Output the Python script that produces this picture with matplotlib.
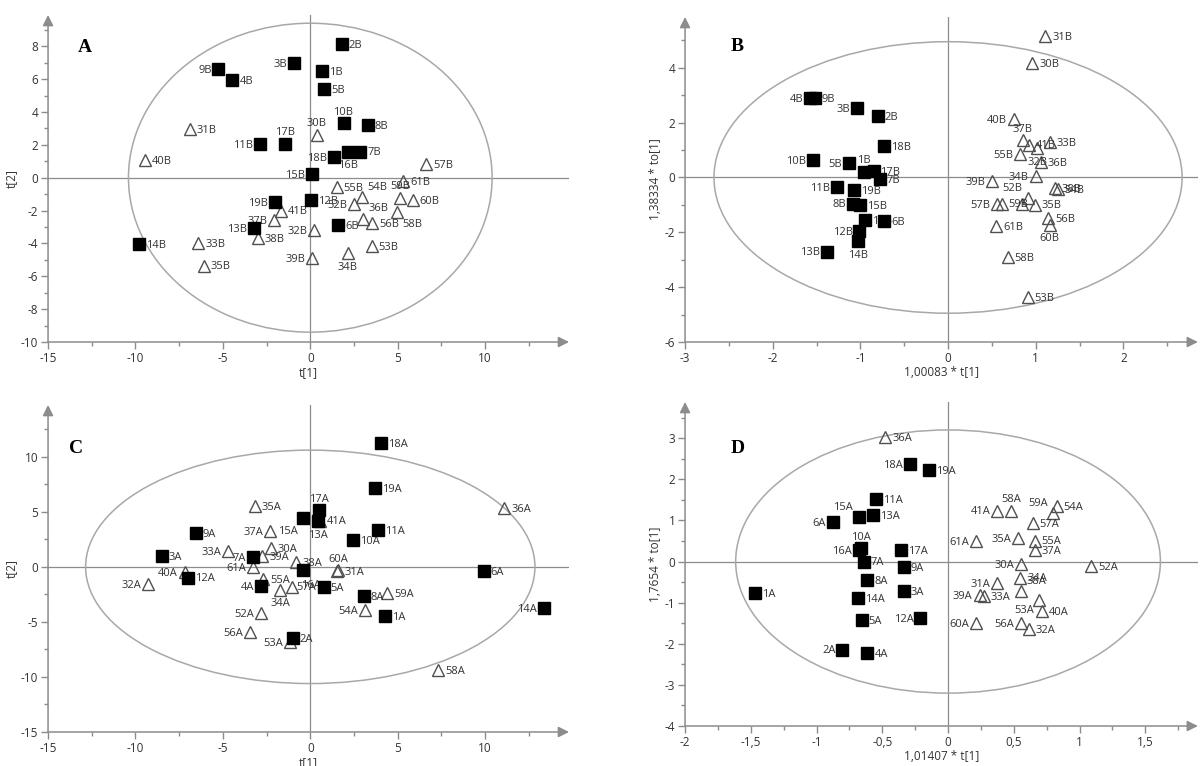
import matplotlib
matplotlib.use("Agg")

import matplotlib.pyplot as plt
from matplotlib.patches import Ellipse
from matplotlib.ticker import FixedLocator, FuncFormatter
import numpy as np

plt.rcParams["font.family"] = ["Open Sans", "DejaVu Sans"]
plt.rcParams["axes.unicode_minus"] = False

# ---- panel A : t[1] / t[2]
a_lab = ["2B", "3B", "9B", "4B", "1B", "5B", "10B", "8B", "17B", "11B", "18B", "16B",
         "7B", "15B", "19B", "12B", "13B", "6B", "14B",
         "31B", "40B", "30B", "57B", "55B", "54B", "52B", "36B", "56B", "60B", "59B",
         "61B", "58B", "41B", "37B", "38B", "33B", "35B", "32B", "39B", "34B", "53B"]
a_x = [1.79, -0.95, -5.25, -4.45, 0.67, 0.8, 1.9, 3.3, -1.43, -2.9, 1.34, 2.18,
       2.85, 0.1, -2.0, 0.04, -3.2, 1.59, -9.8,
       -6.9, -9.45, 0.38, 6.62, 1.52, 2.95, 2.51, 3.02, 3.55, 5.86, 5.13,
       5.3, 4.96, -1.7, -2.07, -3.0, -6.4, -6.1, 0.22, 0.1, 2.14, 3.52]
a_y = [8.15, 7.0, 6.62, 5.95, 6.5, 5.4, 3.3, 3.2, 2.08, 2.04, 1.26, 1.59,
       1.59, 0.2, -1.47, -1.37, -3.06, -2.88, -4.06,
       2.95, 1.06, 2.6, 0.81, -0.59, -1.16, -1.61, -2.49, -2.78, -1.35, -1.24,
       -0.2, -2.08, -2.0, -2.57, -3.7, -4.0, -5.35, -3.16, -4.88, -4.61, -4.16]
a_kind = ["s"] * 19 + ["t"] * 22
a_pos = {"3B": "L", "9B": "L", "10B": "U", "17B": "U", "11B": "L", "18B": "L",
         "16B": "D", "15B": "L", "19B": "L", "13B": "L", "30B": "U", "54B": "UR",
         "52B": "L", "36B": "UR", "59B": "U", "58B": "DR", "37B": "L", "32B": "L",
         "39B": "L", "34B": "D"}

# ---- panel B : 1,00083 * t[1] / 1,38334 * to[1]
b_lab = ["4B", "9B", "3B", "2B", "18B", "10B", "5B", "1B", "17B", "7B", "11B", "19B",
         "8B", "15B", "16B", "6B", "12B", "14B", "13B",
         "31B", "30B", "40B", "37B", "41B", "33B", "32B", "55B", "36B", "34B", "39B",
         "52B", "38B", "54B", "57B", "59B", "35B", "", "56B", "60B", "61B", "58B", "53B"]
b_x = [-1.57, -1.52, -1.04, -0.80, -0.73, -1.54, -1.13, -0.96, -0.85, -0.78, -1.27, -1.07,
       -1.08, -1.0, -0.95, -0.73, -1.01, -1.03, -1.38,
       1.11, 0.96, 0.75, 0.85, 0.92, 1.16, 1.02, 0.82, 1.06, 1.0, 0.5,
       0.91, 1.22, 1.25, 0.56, 0.61, 0.99, 0.84, 1.14, 1.16, 0.55, 0.68, 0.91]
b_y = [2.9, 2.9, 2.53, 2.23, 1.13, 0.64, 0.51, 0.21, 0.24, -0.06, -0.34, -0.46,
       -0.95, -1.0, -1.55, -1.6, -1.94, -2.33, -2.7,
       5.14, 4.16, 2.12, 1.35, 1.2, 1.28, 1.06, 0.86, 0.57, 0.06, -0.13,
       -0.75, -0.39, -0.42, -0.97, -0.95, -0.99, -0.95, -1.49, -1.73, -1.76, -2.91, -4.36]
b_kind = ["s"] * 19 + ["t"] * 23
b_pos = {"4B": "L", "3B": "L", "10B": "L", "5B": "L", "1B": "U", "11B": "L",
         "8B": "L", "12B": "L", "14B": "D", "13B": "L", "40B": "L", "37B": "U",
         "32B": "D", "55B": "L", "34B": "L", "39B": "L", "52B": "UL", "57B": "L",
         "60B": "D"}

# ---- panel C : t[1] / t[2]
c_lab = ["18A", "19A", "17A", "15A", "13A", "11A", "10A", "9A", "3A", "7A", "12A",
         "4A", "2A", "5A", "8A", "1A", "6A", "14A", "16A",
         "35A", "41A", "37A", "33A", "30A", "39A", "61A", "40A", "32A", "55A", "34A",
         "57A", "38A", "31A", "60A", "52A", "56A", "53A", "36A", "59A", "54A", "58A"]
c_x = [4.04, 3.71, 0.5, -0.39, 0.45, 3.85, 2.47, -6.56, -8.5, -3.28, -6.98,
       -2.82, -1.01, 0.77, 3.06, 4.3, 9.91, 13.37, -0.39,
       -3.16, 0.55, -2.3, -4.69, -2.27, -2.74, -3.28, -7.17, -9.27, -2.71, -1.72,
       -1.06, -0.83, 1.54, 1.6, -2.82, -3.44, -1.17, 11.1, 4.41, 3.13, 7.31]
c_y = [11.27, 7.12, 5.15, 4.45, 4.15, 3.33, 2.42, 3.09, 0.97, 0.85, -0.97,
       -1.72, -6.46, -1.87, -2.63, -4.44, -0.42, -3.77, -0.3,
       5.55, 4.2, 3.27, 1.45, 1.67, 0.97, -0.06, -0.45, -1.57, -1.12, -2.11,
       -1.87, 0.45, -0.36, -0.3, -4.23, -5.89, -6.85, 5.3, -2.41, -3.89, -9.36]
c_kind = ["s"] * 19 + ["t"] * 22
c_pos = {"17A": "U", "15A": (-4, -10, "right"), "13A": "D", "7A": "L", "4A": "L",
         "14A": "L", "16A": (-2, -11, "left"), "37A": "L", "33A": "L", "61A": "L",
         "40A": "L", "32A": "L", "34A": "D", "60A": "U", "52A": "L", "56A": "L",
         "53A": "L", "54A": "L", "57A": (3, 0, "left")}

# ---- panel D : 1,01407 * t[1] / 1,7654 * to[1]
d_lab = ["6A", "15A", "11A", "13A", "10A", "16A", "7A", "8A", "17A", "9A", "18A",
         "19A", "1A", "3A", "14A", "5A", "12A", "2A", "4A",
         "36A", "58A", "41A", "59A", "54A", "57A", "61A", "35A", "55A", "37A", "30A",
         "52A", "34A", "31A", "38A", "39A", "33A", "53A", "40A", "60A", "56A", "32A"]
d_x = [-0.878, -0.68, -0.546, -0.567, -0.66, -0.68, -0.64, -0.613, -0.36, -0.336, -0.293,
       -0.144, -1.465, -0.336, -0.683, -0.657, -0.21, -0.803, -0.613,
       -0.478, 0.478, 0.374, 0.8, 0.825, 0.643, 0.21, 0.53, 0.66, 0.66, 0.554,
       1.09, 0.55, 0.374, 0.555, 0.24, 0.27, 0.695, 0.715, 0.213, 0.555, 0.616]
d_y = [0.97, 1.08, 1.52, 1.14, 0.32, 0.29, 0.0, -0.44, 0.29, -0.14, 2.38,
       2.23, -0.77, -0.71, -0.89, -1.42, -1.37, -2.14, -2.22,
       3.03, 1.24, 1.24, 1.18, 1.36, 0.94, 0.49, 0.57, 0.51, 0.27, -0.07,
       -0.12, -0.39, -0.52, -0.71, -0.81, -0.85, -0.93, -1.2, -1.5, -1.49, -1.64]
d_kind = ["s"] * 19 + ["t"] * 22
d_pos = {"6A": "L", "15A": "UL", "10A": "U", "16A": "L", "18A": "L", "12A": "L",
         "2A": "L", "58A": "U", "41A": "L", "59A": "UL", "61A": "L", "35A": "L",
         "30A": "L", "31A": "L", "38A": "UR", "39A": "L", "53A": "DL", "60A": "L",
         "56A": "L"}

OFFS = {"R": (5, -1, "left"), "L": (-5, -1, "right"), "U": (0, 8, "center"),
        "D": (0, -10, "center"), "UR": (4, 7, "left"), "UL": (-4, 7, "right"),
        "DR": (4, -9, "left"), "DL": (-4, -8, "right")}

GREY = "#8c8c8c"
TXT = "#333333"


def comma(v, pos=None):
    s = f"{v:g}"
    return s.replace(".", ",")


def panel(fig, rect, lab, xs, ys, kind, pos, xlim, ylim, xmaj, xmin, ymaj, ymin,
          ell, letter, letter_xy, xlabel, ylabel):
    ax = fig.add_axes(rect)
    ax.set_xlim(*xlim)
    ax.set_ylim(*ylim)
    for s in ax.spines.values():
        s.set_visible(False)
    # axes with arrow heads
    ax.annotate("", xy=(1, 0), xytext=(0, 0), xycoords="axes fraction",
                arrowprops=dict(arrowstyle="-|>", color=GREY, lw=1.1,
                                mutation_scale=16, shrinkA=0, shrinkB=0))
    ax.annotate("", xy=(0, 1), xytext=(0, 0), xycoords="axes fraction",
                arrowprops=dict(arrowstyle="-|>", color=GREY, lw=1.1,
                                mutation_scale=16, shrinkA=0, shrinkB=0))
    ax.xaxis.set_major_locator(FixedLocator(xmaj))
    ax.xaxis.set_minor_locator(FixedLocator(xmin))
    ax.yaxis.set_major_locator(FixedLocator(ymaj))
    ax.yaxis.set_minor_locator(FixedLocator(ymin))
    ax.xaxis.set_major_formatter(FuncFormatter(comma))
    ax.yaxis.set_major_formatter(FuncFormatter(comma))
    ax.tick_params(which="major", length=5, width=1, color=GREY, labelcolor=TXT,
                   labelsize=8.5, pad=2)
    ax.tick_params(which="minor", length=3, width=1, color=GREY)
    ax.set_xlabel(xlabel, fontsize=8.5, color=TXT, labelpad=1)
    ax.set_ylabel(ylabel, fontsize=8.5, color=TXT, labelpad=2)

    ax.axhline(0, color=GREY, lw=0.9, zorder=1)
    ax.axvline(0, color=GREY, lw=0.9, zorder=1)
    ax.add_patch(Ellipse((0, 0), 2 * ell[0], 2 * ell[1], fill=False,
                         ec="#a8a8a8", lw=1.1, zorder=1))

    xs = np.array(xs)
    ys = np.array(ys)
    kind = np.array(kind)
    tri = kind == "t"
    sq = kind == "s"
    ax.plot(xs[tri], ys[tri], ls="none", marker="^", ms=8.5, mfc="none",
            mec="#505050", mew=1.0, zorder=3)
    ax.plot(xs[sq], ys[sq], ls="none", marker="s", ms=8.3, mfc="black",
            mec="black", zorder=5)
    for name, x, y in zip(lab, xs, ys):
        if not name:
            continue
        p = pos.get(name, "R")
        dx, dy, ha = OFFS[p] if isinstance(p, str) else p
        ax.annotate(name, (x, y), xytext=(dx, dy), textcoords="offset points",
                    ha=ha, va="center", fontsize=8, color=TXT, zorder=4)
    ax.text(letter_xy[0], letter_xy[1], letter, fontsize=14, fontweight="bold",
            family="Liberation Serif", ha="center", va="center", color="black")
    return ax


fig = plt.figure(figsize=(12.01, 7.66), dpi=100)

panel(fig, [0.040, 0.5535, 0.4338, 0.4269], a_lab, a_x, a_y, a_kind, a_pos,
      (-15, 14.8), (-10, 9.9),
      np.arange(-15, 11, 5), np.arange(-12.5, 13, 5),
      np.arange(-10, 9, 2), np.arange(-9, 10, 2),
      (10.4, 9.4), "A", (-12.9, 7.9), "t[1]", "t[2]")

panel(fig, [0.5704, 0.5535, 0.427, 0.4243], b_lab, b_x, b_y, b_kind, b_pos,
      (-3, 2.85), (-6, 5.85),
      np.arange(-3, 3, 1), np.arange(-2.5, 2.6, 1),
      np.arange(-6, 5, 2), np.arange(-5, 6, 2),
      (2.67, 4.95), "B", (-2.41, 4.77), "1,00083 * t[1]", "1,38334 * to[1]")

panel(fig, [0.040, 0.0444, 0.4338, 0.4269], c_lab, c_x, c_y, c_kind, c_pos,
      (-15, 14.8), (-15, 14.7),
      np.arange(-15, 11, 5), np.arange(-12.5, 13, 5),
      np.arange(-15, 11, 5), np.arange(-12.5, 13, 5),
      (12.85, 10.6), "C", (-13.4, 10.76), "t[1]", "t[2]")

panel(fig, [0.5704, 0.0522, 0.427, 0.423], d_lab, d_x, d_y, d_kind, d_pos,
      (-2, 1.9), (-4, 3.88),
      np.arange(-2, 1.6, 0.5), np.arange(-1.75, 1.8, 0.5),
      np.arange(-4, 4, 1), np.arange(-3.5, 3.6, 1),
      (1.615, 3.2), "D", (-1.6, 2.74), "1,01407 * t[1]", "1,7654 * to[1]")

fig.savefig("out.png", dpi=100)
